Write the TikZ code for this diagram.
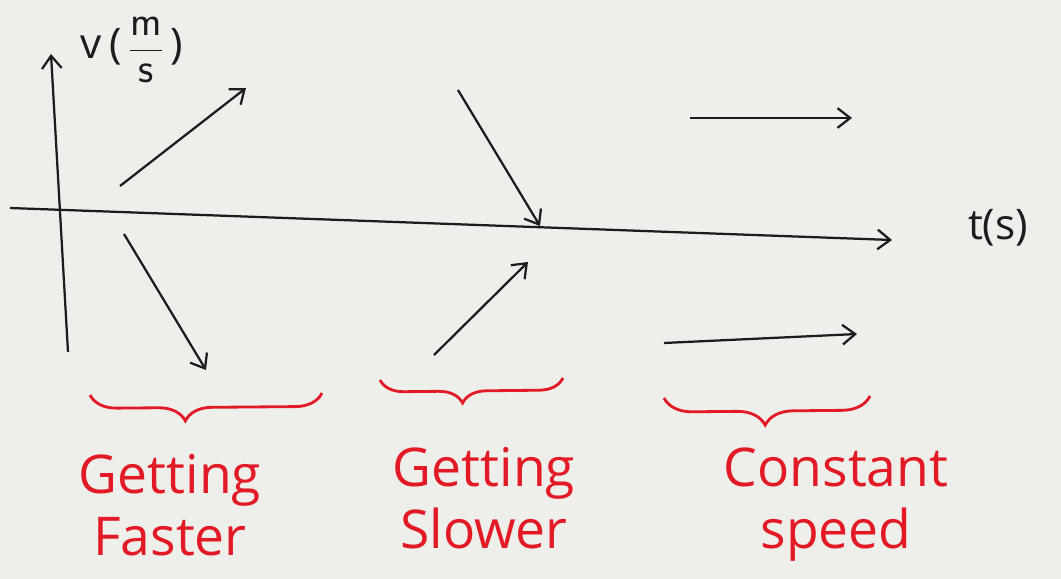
\documentclass[tikz,border=0pt]{standalone}
\usepackage{fontspec}
\setmainfont{Open Sans}
\usetikzlibrary{arrows.meta,decorations.pathreplacing}
\definecolor{pen}{RGB}{28,28,28}
\definecolor{marker}{RGB}{226,26,38}
\definecolor{paper}{RGB}{238,238,235}

\begin{document}
\begin{tikzpicture}[x=0.025cm,y=-0.025cm]
            \tikzset{
                tip/.style={-{Straight Barb[length=9pt,width=14pt,line width=1.6pt]}},
                axis/.style={draw=pen,line width=1.6pt,tip},
                vec/.style={draw=pen,line width=1.6pt,tip},
                under/.style args={#1 at #2}{draw=marker,line width=2pt,decorate,
                    decoration={brace,mirror,amplitude=#1,aspect=#2}},
                note/.style={text=marker,align=center,font=\fontsize{38}{44}\selectfont},
                unit/.style={text=pen,font=\fontsize{30}{34}\selectfont},}
            \useasboundingbox (0,0) rectangle (1061,579);
            \fill[paper] (0,0) rectangle (1061,579);
            % axes
            \coordinate (vbot) at (68,352);
            \coordinate (vtop) at (51,54);
            \coordinate (tbeg) at (10,208);
            \coordinate (tend) at (892,240);
            \draw[axis] (vbot) -- (vtop);
            \draw[axis] (tbeg) -- (tend);
            \node[unit,anchor=west] (vlab) at (76,50) {v\,(\,$\displaystyle\frac{\mathsf{m}}{\mathsf{s}}$\,)};
            \node[unit] (tlab) at (998,228) {t(s)};
            % velocity arrows
            \coordinate (a1) at (120,186);  \coordinate (b1) at (246,88);
            \coordinate (a2) at (124,234);  \coordinate (b2) at (206,370);
            \coordinate (a3) at (458,90);   \coordinate (b3) at (540,226);
            \coordinate (a4) at (434,355);  \coordinate (b4) at (528,262);
            \coordinate (a5) at (690,118);  \coordinate (b5) at (852,118);
            \coordinate (a6) at (664,343);  \coordinate (b6) at (857,334);
            \foreach \i in {1,...,6}
                \draw[vec] (a\i) -- (b\i);
            % braces
            \coordinate (l1) at (90,395);   \coordinate (r1) at (322,393);
            \coordinate (l2) at (380,380);  \coordinate (r2) at (563,378);
            \coordinate (l3) at (664,398);  \coordinate (r3) at (870,396);
            \draw[under=19pt at 0.41] (l1) -- (r1);
            \draw[under=17pt at 0.45] (l2) -- (r2);
            \draw[under=20pt at 0.49] (l3) -- (r3);
            \node[note] (fast) at (170,505) {Getting\\Faster};
            \node[note] (slow) at (484,498) {Getting\\Slower};
            \node[note] (const) at (836,505) {Constant\\speed};
        \end{tikzpicture}
\end{document}
